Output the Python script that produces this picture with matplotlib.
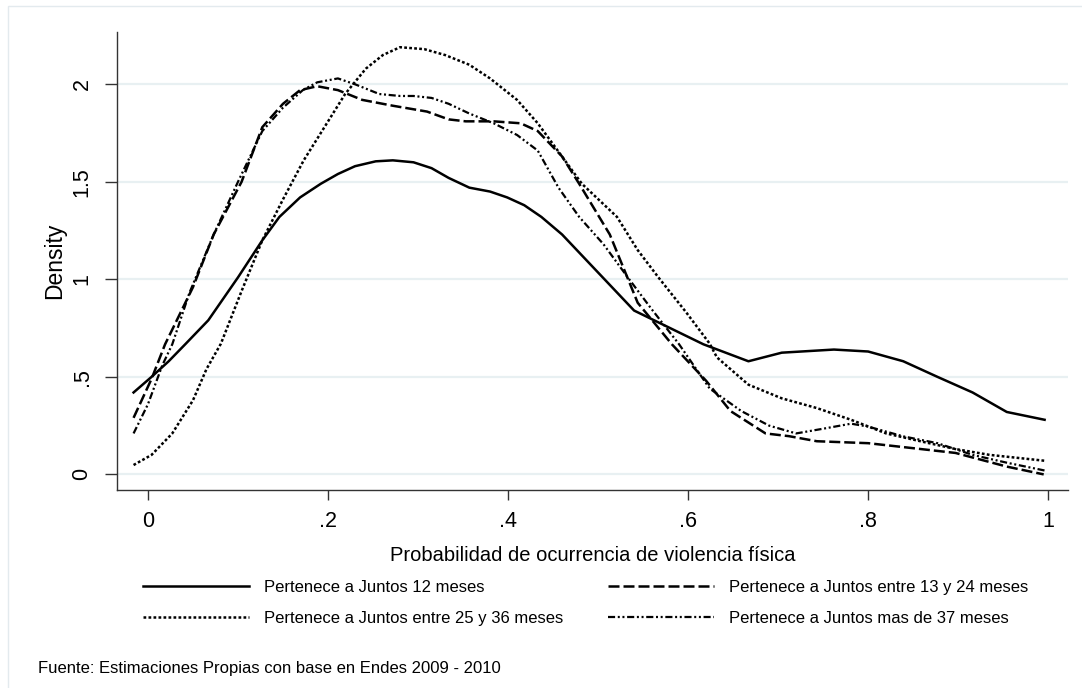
import matplotlib
matplotlib.use("Agg")
import matplotlib.pyplot as plt
from matplotlib.patches import Rectangle

plt.rcParams["font.family"] = ["Liberation Sans", "DejaVu Sans"]

# ---------------------------------------------------------------------------
# densidades
x_12 = [-0.016, 0.004, 0.023, 0.042, 0.067, 0.10, 0.127, 0.146, 0.169, 0.192, 0.211,
        0.23, 0.253, 0.272, 0.295, 0.315, 0.334, 0.357, 0.38, 0.399, 0.418, 0.437,
        0.46, 0.54, 0.617, 0.667, 0.704, 0.762, 0.80, 0.839, 0.877, 0.916, 0.954, 0.996]
y_12 = [0.42, 0.50, 0.58, 0.67, 0.79, 1.01, 1.20, 1.32, 1.42, 1.49, 1.54,
        1.58, 1.605, 1.61, 1.60, 1.57, 1.52, 1.47, 1.45, 1.42, 1.38, 1.32,
        1.23, 0.84, 0.667, 0.58, 0.624, 0.64, 0.63, 0.58, 0.50, 0.42, 0.32, 0.28]

x_24 = [-0.016, 0.004, 0.019, 0.05, 0.073, 0.104, 0.127, 0.15, 0.169, 0.188, 0.211,
        0.238, 0.272, 0.31, 0.334, 0.353, 0.384, 0.414, 0.433, 0.46, 0.479, 0.513,
        0.544, 0.582, 0.62, 0.647, 0.686, 0.712, 0.743, 0.80, 0.839, 0.897, 0.954, 0.995]
y_24 = [0.29, 0.49, 0.667, 0.96, 1.23, 1.50, 1.78, 1.90, 1.97, 1.99, 1.97,
        1.92, 1.89, 1.86, 1.82, 1.81, 1.81, 1.80, 1.76, 1.63, 1.49, 1.23,
        0.88, 0.667, 0.48, 0.325, 0.21, 0.196, 0.17, 0.16, 0.14, 0.11, 0.04, 0.0]

x_36 = [-0.016, 0.004, 0.027, 0.05, 0.065, 0.081, 0.104, 0.127, 0.15, 0.173, 0.196,
        0.219, 0.242, 0.261, 0.28, 0.307, 0.33, 0.357, 0.38, 0.41, 0.433, 0.452,
        0.482, 0.521, 0.544, 0.567, 0.598, 0.624, 0.632, 0.667, 0.704, 0.743, 0.781,
        0.82, 0.858, 0.897, 0.935, 0.996]
y_36 = [0.048, 0.10, 0.21, 0.38, 0.54, 0.67, 0.94, 1.20, 1.41, 1.61, 1.78,
        1.95, 2.08, 2.15, 2.19, 2.18, 2.15, 2.10, 2.03, 1.92, 1.80, 1.68,
        1.49, 1.32, 1.15, 1.01, 0.83, 0.67, 0.60, 0.46, 0.39, 0.34, 0.28,
        0.21, 0.17, 0.13, 0.10, 0.07]

x_37 = [-0.016, 0.0, 0.016, 0.027, 0.046, 0.073, 0.10, 0.127, 0.15, 0.172, 0.188,
        0.211, 0.23, 0.257, 0.28, 0.295, 0.315, 0.334, 0.357, 0.384, 0.41, 0.433,
        0.456, 0.479, 0.506, 0.533, 0.559, 0.59, 0.624, 0.659, 0.69, 0.72, 0.751,
        0.781, 0.80, 0.839, 0.877, 0.916, 0.954, 0.996]
y_37 = [0.21, 0.36, 0.56, 0.667, 0.93, 1.23, 1.50, 1.76, 1.88, 1.97, 2.01,
        2.03, 2.00, 1.95, 1.94, 1.94, 1.93, 1.90, 1.85, 1.80, 1.74, 1.66,
        1.47, 1.32, 1.18, 1.01, 0.85, 0.667, 0.44, 0.325, 0.25, 0.21, 0.235,
        0.26, 0.245, 0.195, 0.16, 0.10, 0.06, 0.02]

labels = ["Pertenece a Juntos 12 meses",
          "Pertenece a Juntos entre 13 y 24 meses",
          "Pertenece a Juntos entre 25 y 36 meses",
          "Pertenece a Juntos mas de 37 meses"]
y_ticks = [0, 0.5, 1, 1.5, 2]
y_ticklabels = ["0", ".5", "1", "1.5", "2"]
x_ticks = [0, 0.2, 0.4, 0.6, 0.8, 1]
x_ticklabels = ["0", ".2", ".4", ".6", ".8", "1"]

# ---------------------------------------------------------------------------
W, H = 1082, 688
fig = plt.figure(figsize=(W / 100, H / 100), dpi=100)
fig.patch.set_facecolor("white")
fig.patches.append(Rectangle((8 / W, -0.05), 1.1, 1 - 6 / H + 0.05,
                             transform=fig.transFigure, fill=False,
                             edgecolor="#e3eaee", lw=1.0))

ax = fig.add_axes([117 / W, (H - 490) / H, (1068 - 117) / W, (490 - 32) / H])
ax.set_xlim(-0.0344, 1.022)
ax.set_ylim(-0.08, 2.268)

lw = 1.8
h12, = ax.plot(x_12, y_12, color="black", lw=lw, label=labels[0])
h24, = ax.plot(x_24, y_24, color="black", lw=lw, dashes=(4.4, 1.6), label=labels[1])
h36, = ax.plot(x_36, y_36, color="black", lw=lw, dashes=(1.1, 0.9), label=labels[2])
h37, = ax.plot(x_37, y_37, color="black", lw=1.6, dashes=(3.2, 1.2, 0.9, 1.2, 0.9, 1.2),
               label=labels[3])

for s in ["top", "right"]:
    ax.spines[s].set_visible(False)
for s in ["left", "bottom"]:
    ax.spines[s].set_color("#333333")
    ax.spines[s].set_linewidth(1.0)

ax.set_yticks(y_ticks)
ax.set_yticklabels(y_ticklabels, rotation=90, va="center", fontsize=15.5)
ax.set_xticks(x_ticks)
ax.set_xticklabels(x_ticklabels, fontsize=15.5)
ax.tick_params(axis="y", length=8.6, width=1, color="#333333", pad=9)
ax.tick_params(axis="x", length=7, width=1, color="#333333", pad=8)
ax.grid(axis="y", color="#e8f0f2", lw=1.6)
ax.set_axisbelow(True)

ax.set_ylabel("Density", fontsize=16.5, labelpad=4)
ax.set_xlabel("Probabilidad de ocurrencia de violencia física", fontsize=14.5, labelpad=10)

# orden por filas, como en el original
fig.legend([h12, h36, h24, h37], [labels[0], labels[2], labels[1], labels[3]],
           loc="upper left", bbox_to_anchor=(128 / W, 1 - 565 / H),
           ncol=2, frameon=False, fontsize=12, handlelength=6.35,
           handletextpad=0.9, columnspacing=2.7, labelspacing=0.95)

fig.text(38 / W, 1 - 669 / H, "Fuente: Estimaciones Propias con base en Endes 2009 - 2010",
         fontsize=12, va="center", ha="left")

fig.savefig("out.png", dpi=100)
